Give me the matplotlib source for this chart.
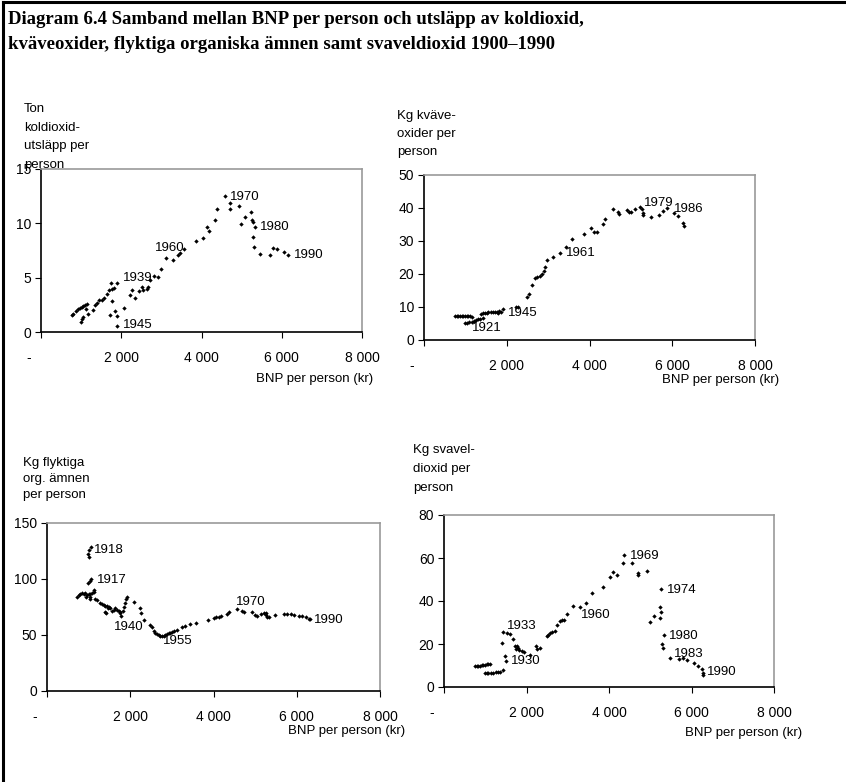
import matplotlib.pyplot as plt
from matplotlib.ticker import FuncFormatter
from matplotlib.lines import Line2D

# BNP per person (kr) and emissions
co2_bnp = [765, 807, 873, 931, 973, 1015, 1056, 1098, 1156, 1123, 1015, 990, 1056, 1181, 1289,
           1347, 1389, 1455, 1514, 1572, 1638, 1705, 1763, 1821, 1904, 1746, 1763, 1846, 1721,
           1888, 1904, 2071, 2220, 2262, 2345, 2453, 2511, 2553, 2636, 2678, 2719, 2819, 2927,
           2994, 3118, 3285, 3426, 3468, 3568, 3867, 4033, 4133, 4175, 4341, 4383, 4590, 4699,
           4715, 4923, 4981, 5089, 5231, 5256, 5272, 5281, 5314, 5339, 5464, 5696, 5780, 5879,
           6046, 6146]
co2_val = [1.54, 1.69, 1.94, 2.16, 2.25, 2.31, 2.37, 2.46, 2.56, 2.16, 1.23, 0.92, 1.39, 1.63, 2.00,
           2.46, 2.68, 2.93, 2.99, 3.17, 3.54, 3.85, 4.00, 4.07, 4.47, 4.47, 2.86, 1.94, 1.54,
           1.45, 0.55, 2.22, 3.39, 3.85, 3.17, 3.76, 4.16, 3.91, 4.00, 4.10, 4.77, 5.14, 5.02,
           5.79, 6.84, 6.62, 7.08, 7.30, 7.61, 8.38, 8.62, 9.70, 9.33, 10.32, 11.33, 12.47, 11.30,
           11.86, 11.61, 9.92, 10.56, 11.03, 10.32, 10.10, 8.78, 7.79, 9.64, 7.18, 7.08, 7.70, 7.67,
           7.33, 7.05]
co2_years = [("1970", 4715, 12.4), ("1980", 5464, 9.7), ("1990", 6295, 7.1),
             ("1960", 2852, 7.7), ("1939", 2054, 5.0), ("1945", 2037, 0.68)]

nox_bnp = [749, 790, 830, 870, 910, 951, 991, 1031, 1071, 1112, 1152,
           991, 1047, 1096, 1152, 1208, 1257, 1313, 1353, 1418,
           1370, 1418, 1474, 1515, 1555, 1611, 1660, 1716, 1772, 1821, 1853, 1901, 1797,
           2224, 2280, 2497, 2546, 2603, 2683, 2739, 2804, 2844, 2900, 2924, 2981, 3126, 3287,
           3432, 3585, 3867, 4028, 4109, 4173, 4334, 4375, 4576, 4697, 4713, 4914, 4963, 4995,
           5100, 5221, 5261, 5285, 5301, 5478, 5688, 5785, 5881, 6042, 6147, 6268, 6284]
nox_val = [7.37, 7.37, 7.27, 7.37, 7.37, 7.37, 7.27, 7.37, 7.37, 7.27, 7.07,
           5.25, 5.25, 5.35, 5.56, 5.76, 6.06, 6.26, 6.26, 6.57,
           7.88, 8.08, 8.28, 8.28, 8.38, 8.38, 8.38, 8.38, 8.59, 8.89, 8.38, 9.29, 8.08,
           9.90, 10.10, 12.93, 13.84, 16.57, 18.69, 19.19, 19.49, 19.90, 21.01, 22.22, 24.24, 25.25, 26.26,
           28.28, 30.61, 32.12, 34.04, 32.63, 32.63, 35.25, 36.77, 39.70, 38.69, 38.28, 39.49, 38.89, 38.69,
           39.70, 40.40, 39.60, 38.38, 37.78, 37.37, 37.78, 39.19, 39.90, 38.59, 37.68, 35.56, 34.65]
nox_years = [("1921", 1152, 3.7), ("1945", 2038, 8.1), ("1961", 3432, 26.3),
             ("1979", 5325, 41.4), ("1986", 6042, 39.7)]

voc_bnp = [721, 762, 802, 842, 882, 922, 962, 1002, 1042, 1082, 1122, 1138, 1026, 946,
           978, 1026, 1058, 1058, 1002, 978, 1002,
           1042, 1162, 1202, 1283, 1323, 1363, 1403, 1443, 1403, 1427, 1459, 1483, 1523, 1563,
           1603, 1643, 1683, 1723, 1747, 1764, 1780, 1828, 1860, 1884, 1908, 1924, 2084, 2228,
           2261, 2325, 2485, 2525, 2565, 2605, 2645, 2685, 2725, 2766, 2806, 2846, 2886, 2926,
           2966, 3006, 3046, 3126, 3246, 3327, 3447, 3591, 3864, 4008, 4072, 4128, 4184, 4329,
           4369, 4569, 4689, 4729, 4930, 4986, 5050, 5130, 5210, 5251, 5267, 5291, 5331, 5467,
           5691, 5772, 5852, 5932, 6052, 6132, 6212, 6293, 6317]
voc_val = [84.3, 85.8, 86.7, 87.2, 86.7, 87.2, 85.8, 86.4, 86.7, 87.9, 88.7, 90.2, 84.3, 84.3,
           96.2, 98.6, 99.8, 128.5, 125.5, 122.5, 119.5,
           81.9, 81.9, 81.3, 78.9, 77.7, 76.8, 75.9, 75.9, 70.8, 69.3, 73.8, 75.3, 73.8, 71.7,
           72.3, 73.8, 72.3, 71.7, 70.8, 69.3, 66.9, 71.7, 75.3, 78.3, 81.9, 83.7, 79.8, 73.8,
           69.3, 63.3, 58.9, 56.8, 53.8, 52.0, 50.5, 49.9, 49.3, 49.0, 49.0, 49.9, 50.8, 51.4,
           52.0, 52.6, 53.5, 54.4, 56.8, 58.0, 59.8, 61.0, 63.3, 64.8, 65.7, 66.3, 66.9, 68.7,
           70.2, 72.9, 71.7, 70.8, 70.8, 67.5, 66.9, 68.7, 69.3, 69.9, 67.8, 66.3, 65.7, 67.8,
           68.4, 68.7, 68.4, 67.8, 67.2, 66.9, 65.7, 64.2, 63.9]
voc_years = [("1918", 1122, 125.5), ("1917", 1202, 99.2), ("1940", 1619, 57.4),
             ("1955", 2790, 44.8), ("1970", 4529, 79.8), ("1990", 6413, 63.3)]

so2_bnp = [751, 791, 831, 872, 912, 953, 993, 1033, 1074, 1114,
           993, 1033, 1074, 1130, 1195, 1259, 1316, 1356,
           1437, 1397, 1437, 1477, 1502, 1534, 1598, 1679, 1720, 1744, 1776, 1800, 1824, 1881,
           1937, 2083, 2228, 2260, 2325, 2486, 2527, 2567, 2607, 2688, 2745, 2809, 2850, 2906,
           2987, 3116, 3294, 3439, 3576, 3859, 4036, 4101, 4182, 4343, 4367, 4569, 4706, 4706,
           4924, 4989, 5086, 5231, 5247, 5255, 5272, 5296, 5312, 5328, 5473, 5699, 5796, 5893,
           6054, 6159, 6264, 6280, 6280]
so2_val = [9.59, 9.59, 9.90, 9.90, 10.06, 10.21, 10.37, 10.52, 10.68, 10.83,
           6.50, 6.50, 6.50, 6.50, 6.65, 6.81, 6.81, 6.81,
           7.74, 20.43, 25.38, 14.55, 11.91, 25.07, 24.76, 22.28, 19.19, 17.64, 18.88, 18.10, 17.02, 16.56,
           16.09, 15.01, 19.19, 17.64, 18.10, 23.52, 24.29, 25.07, 25.53, 26.15, 28.63, 30.48, 31.26, 31.26,
           34.04, 37.76, 37.14, 39.30, 43.95, 46.42, 51.37, 53.69, 52.15, 57.87, 61.43, 57.56, 53.23, 52.15,
           54.16, 30.02, 33.11, 32.03, 37.14, 34.66, 45.65, 20.12, 18.10, 23.98, 13.31, 13.00, 13.31, 12.38,
           10.99, 9.59, 8.36, 6.50, 5.73]
so2_years = [("1969", 4505, 60.7), ("1974", 5393, 45.2), ("1933", 1534, 28.2),
             ("1930", 1615, 11.9), ("1960", 3318, 33.6), ("1980", 5457, 23.5),
             ("1983", 5570, 15.5), ("1990", 6377, 6.8)]

W, H = 846, 782
plt.rcParams['font.family'] = ['Liberation Sans', 'DejaVu Sans']
fig = plt.figure(figsize=(W / 100, H / 100), dpi=100)


def px_axes(l, t, r, b):
    return fig.add_axes([l / W, 1 - b / H, (r - l) / W, (b - t) / H])


def fig_text(x, y, s, **kw):
    fig.text(x / W, 1 - y / H, s, **kw)


def xfmt(v, pos):
    if v == 0:
        return '-      '
    return '{:,.0f}'.format(v).replace(',', ' ')


def panel(ax, xs, ys, years, ymax, ystep):
    ax.scatter(xs, ys, marker='D', s=5, color='black', linewidths=0)
    for lab, x, y in years:
        ax.text(x, y, lab, fontsize=9.5, ha='left', va='center')
    ax.set_xlim(0, 8000)
    ax.set_ylim(0, ymax)
    ax.set_xticks(range(0, 8001, 2000))
    ax.set_yticks(range(0, ymax + 1, ystep))
    ax.xaxis.set_major_formatter(FuncFormatter(xfmt))
    ax.tick_params(axis='x', direction='out', length=4, pad=10, labelsize=10)
    ax.tick_params(axis='y', direction='out', length=4, pad=3, labelsize=10)
    for s in ['top', 'right']:
        ax.spines[s].set_color('#999999')
        ax.spines[s].set_linewidth(1.2)
    for s in ['left', 'bottom']:
        ax.spines[s].set_linewidth(1.2)


ax1 = px_axes(41, 169, 362, 332)
panel(ax1, co2_bnp, co2_val, co2_years, 15, 5)
ax2 = px_axes(424, 175, 755, 340)
panel(ax2, nox_bnp, nox_val, nox_years, 50, 10)
ax3 = px_axes(47, 523, 380, 691)
panel(ax3, voc_bnp, voc_val, voc_years, 150, 50)
ax4 = px_axes(444, 515, 774, 687)
panel(ax4, so2_bnp, so2_val, so2_years, 80, 20)

# axis titles
lab_kw = dict(fontsize=9.5, ha='left', va='center', zorder=5)
fig_text(24, 137, 'Ton\nkoldioxid-\nutsläpp per\nperson', linespacing=1.75, **lab_kw)
fig_text(397, 134, 'Kg kväve-\noxider per\nperson', linespacing=1.7, **lab_kw)
fig_text(23, 479, 'Kg flyktiga\norg. ämnen\nper person', linespacing=1.45, **lab_kw)
fig_text(413, 469, 'Kg svavel-\ndioxid per\nperson', linespacing=1.78, **lab_kw)

xl_kw = dict(fontsize=9.5, ha='right', va='center')
fig_text(373, 379, 'BNP per person (kr)', **xl_kw)
fig_text(779, 380, 'BNP per person (kr)', **xl_kw)
fig_text(405, 731, 'BNP per person (kr)', **xl_kw)
fig_text(802, 733, 'BNP per person (kr)', **xl_kw)

# title
fig_text(8, 32, 'Diagram 6.4 Samband mellan BNP per person och utsläpp av koldioxid,\n'
         'kväveoxider, flyktiga organiska ämnen samt svaveldioxid 1900–1990',
         fontsize=13.5, fontweight='bold', family='Liberation Serif', ha='left', va='center',
         linespacing=1.55)

# frame lines on the left and top edges
fig.add_artist(Line2D([3 / W, 3 / W], [0, 1 - 2 / H], color='black', lw=2.2))
fig.add_artist(Line2D([3 / W, 845 / W], [1 - 2 / H, 1 - 2 / H], color='black', lw=2.2))

fig.savefig('out.png', dpi=100)
